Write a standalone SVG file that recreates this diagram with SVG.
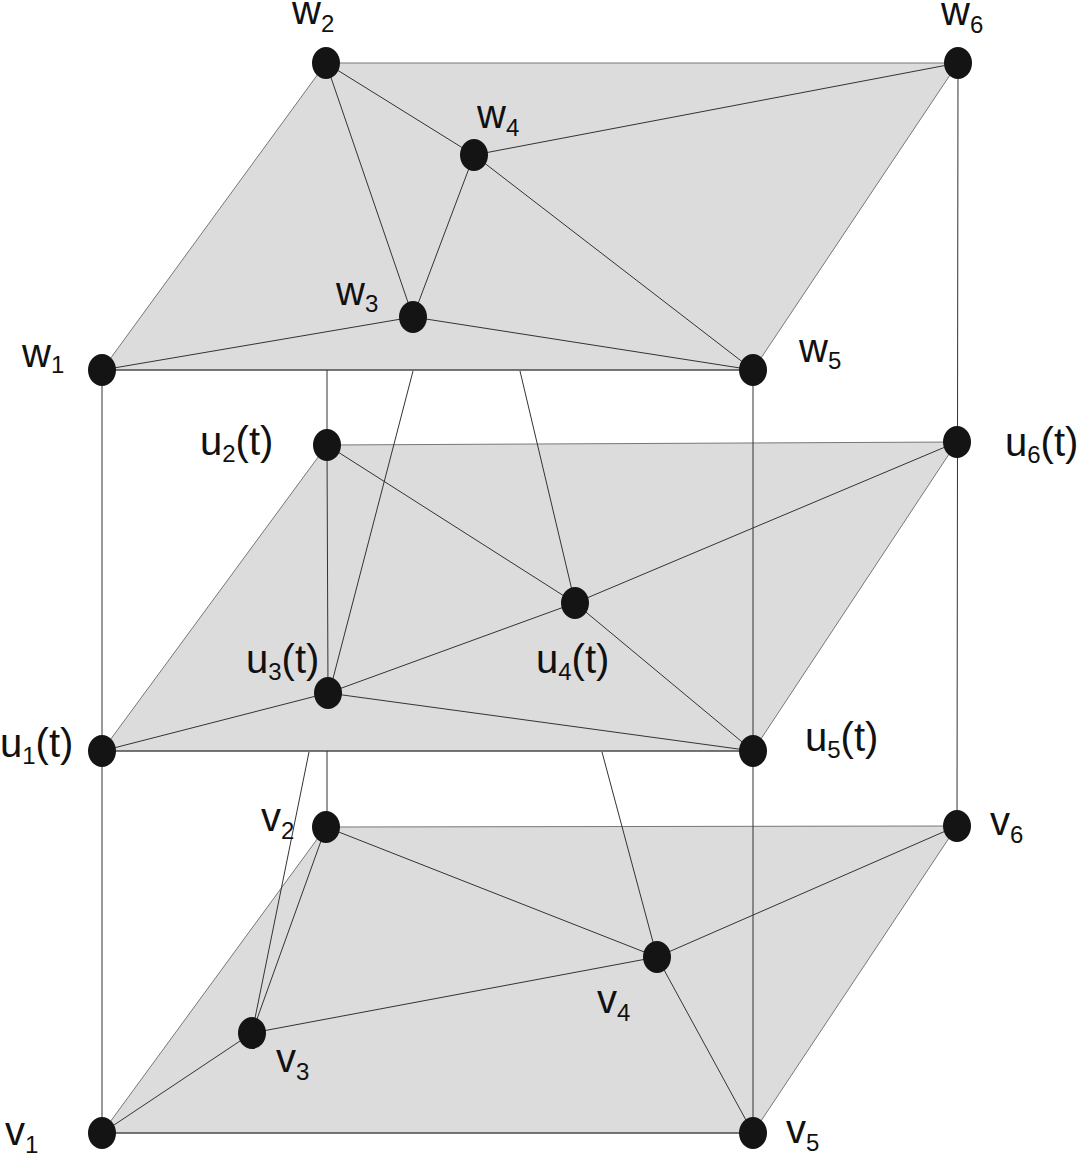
<svg xmlns="http://www.w3.org/2000/svg" width="1082" height="1157" viewBox="0 0 1082 1157">
<style>
.plane{fill:#dcdcdc;stroke:#777;stroke-width:1}
.e{stroke:#333;stroke-width:1;fill:none}
.n{fill:#141414}
.t{font-family:"Liberation Sans",Arial,sans-serif;font-size:40px;fill:#111}
.s{font-size:24px}
</style>
<rect width="1082" height="1157" fill="#fff"/>
<g id="planes">
<polygon class="plane" points="102,370 753,370 958,63 326,63"/>
<polygon class="plane" points="102,751 753,751 957,442 327,445"/>
<polygon class="plane" points="102,1133 753,1133 957,826 326,827"/>
</g>
<g id="connectors">
<line class="e" x1="102" y1="370" x2="753" y2="370"/>
<line class="e" x1="102" y1="370" x2="413" y2="317"/>
<line class="e" x1="413" y1="317" x2="753" y2="370"/>
<line class="e" x1="326" y1="63" x2="413" y2="317"/>
<line class="e" x1="326" y1="63" x2="474" y2="155"/>
<line class="e" x1="474" y1="155" x2="413" y2="317"/>
<line class="e" x1="474" y1="155" x2="958" y2="63"/>
<line class="e" x1="474" y1="155" x2="753" y2="370"/>
<line class="e" x1="102" y1="751" x2="753" y2="751"/>
<line class="e" x1="102" y1="751" x2="328" y2="693"/>
<line class="e" x1="328" y1="693" x2="753" y2="751"/>
<line class="e" x1="327" y1="445" x2="328" y2="693"/>
<line class="e" x1="327" y1="445" x2="575" y2="603"/>
<line class="e" x1="328" y1="693" x2="575" y2="603"/>
<line class="e" x1="575" y1="603" x2="957" y2="442"/>
<line class="e" x1="575" y1="603" x2="753" y2="751"/>
<line class="e" x1="102" y1="1133" x2="753" y2="1133"/>
<line class="e" x1="102" y1="1133" x2="252" y2="1033"/>
<line class="e" x1="326" y1="827" x2="252" y2="1033"/>
<line class="e" x1="252" y1="1033" x2="657" y2="957"/>
<line class="e" x1="326" y1="827" x2="657" y2="957"/>
<line class="e" x1="657" y1="957" x2="957" y2="826"/>
<line class="e" x1="657" y1="957" x2="753" y2="1133"/>
<line class="e" x1="102" y1="370" x2="102" y2="1133"/>
<line class="e" x1="327" y1="370" x2="327" y2="445"/>
<line class="e" x1="327" y1="751" x2="327" y2="827"/>
<line class="e" x1="753" y1="370" x2="753" y2="1133"/>
<line class="e" x1="958" y1="63" x2="957" y2="826"/>
<line class="e" x1="413" y1="371" x2="330" y2="690"/>
<line class="e" x1="520" y1="371" x2="575" y2="603"/>
<line class="e" x1="309" y1="752" x2="252" y2="1033"/>
<line class="e" x1="602" y1="752" x2="657" y2="957"/>
</g>
<g id="w1"><ellipse class="n" cx="102" cy="370" rx="14" ry="16"/><text class="t" x="22" y="367">w<tspan class="s" dy="6">1</tspan></text></g>
<g id="w2"><ellipse class="n" cx="326" cy="63" rx="14" ry="16"/><text class="t" x="292" y="24">w<tspan class="s" dy="8">2</tspan></text></g>
<g id="w3"><ellipse class="n" cx="413" cy="317" rx="14" ry="16"/><text class="t" x="336" y="305">w<tspan class="s" dy="7">3</tspan></text></g>
<g id="w4"><ellipse class="n" cx="474" cy="155" rx="14" ry="16"/><text class="t" x="477" y="128">w<tspan class="s" dy="8">4</tspan></text></g>
<g id="w5"><ellipse class="n" cx="753" cy="370" rx="14" ry="16"/><text class="t" x="799" y="362">w<tspan class="s" dy="7">5</tspan></text></g>
<g id="w6"><ellipse class="n" cx="958" cy="63" rx="14" ry="16"/><text class="t" x="941" y="25">w<tspan class="s" dy="8">6</tspan></text></g>
<g id="u1"><ellipse class="n" cx="102" cy="751" rx="14" ry="16"/><text class="t" x="0" y="757">u<tspan class="s" dy="7">1</tspan><tspan dy="-7">(t)</tspan></text></g>
<g id="u2"><ellipse class="n" cx="327" cy="445" rx="14" ry="16"/><text class="t" x="200" y="455">u<tspan class="s" dy="7">2</tspan><tspan dy="-7">(t)</tspan></text></g>
<g id="u3"><ellipse class="n" cx="328" cy="693" rx="14" ry="16"/><text class="t" x="246" y="673">u<tspan class="s" dy="7">3</tspan><tspan dy="-7">(t)</tspan></text></g>
<g id="u4"><ellipse class="n" cx="575" cy="603" rx="14" ry="16"/><text class="t" x="536" y="673">u<tspan class="s" dy="7">4</tspan><tspan dy="-7">(t)</tspan></text></g>
<g id="u5"><ellipse class="n" cx="753" cy="751" rx="14" ry="16"/><text class="t" x="805" y="751">u<tspan class="s" dy="7">5</tspan><tspan dy="-7">(t)</tspan></text></g>
<g id="u6"><ellipse class="n" cx="957" cy="442" rx="14" ry="16"/><text class="t" x="1005" y="456">u<tspan class="s" dy="7">6</tspan><tspan dy="-7">(t)</tspan></text></g>
<g id="v1"><ellipse class="n" cx="102" cy="1133" rx="14" ry="16"/><text class="t" x="5" y="1145">v<tspan class="s" dy="8">1</tspan></text></g>
<g id="v2"><ellipse class="n" cx="326" cy="827" rx="14" ry="16"/><text class="t" x="261" y="831">v<tspan class="s" dy="8">2</tspan></text></g>
<g id="v3"><ellipse class="n" cx="252" cy="1033" rx="14" ry="16"/><text class="t" x="276" y="1072">v<tspan class="s" dy="8">3</tspan></text></g>
<g id="v4"><ellipse class="n" cx="657" cy="957" rx="14" ry="16"/><text class="t" x="597" y="1013">v<tspan class="s" dy="8">4</tspan></text></g>
<g id="v5"><ellipse class="n" cx="753" cy="1133" rx="14" ry="16"/><text class="t" x="786" y="1143">v<tspan class="s" dy="8">5</tspan></text></g>
<g id="v6"><ellipse class="n" cx="957" cy="826" rx="14" ry="16"/><text class="t" x="990" y="835">v<tspan class="s" dy="8">6</tspan></text></g>
</svg>
